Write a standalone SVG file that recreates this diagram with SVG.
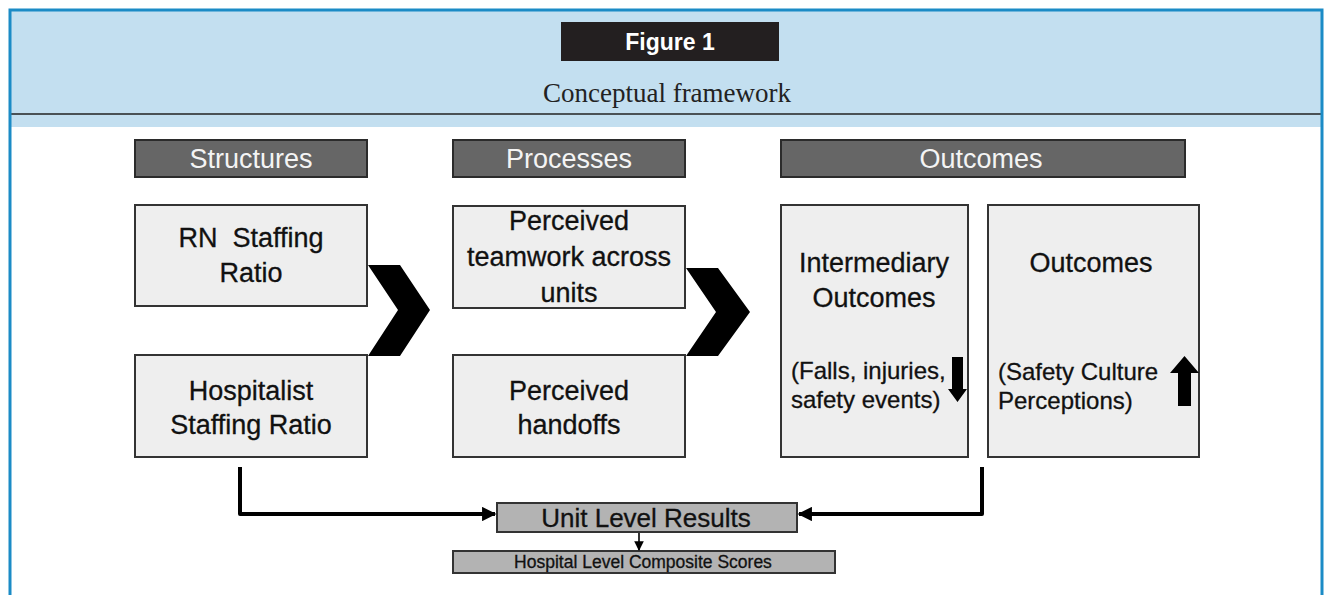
<svg xmlns="http://www.w3.org/2000/svg" width="1328" height="595" viewBox="0 0 1328 595">
  <defs>
    <style>
      .frame { fill: none; stroke: #1b8bc6; stroke-width: 3; }
      .head { fill: #666666; stroke: #2b2b2b; stroke-width: 2; }
      .headtxt { font-family: "Liberation Sans", Arial, sans-serif; font-size: 27px; fill: #f4f4f4; text-anchor: middle; }
      .box { fill: #eeeeee; stroke: #333333; stroke-width: 2; }
      .txt { font-family: "Liberation Sans", Arial, sans-serif; font-size: 27px; fill: #111111; stroke: #111111; stroke-width: 0.3; text-anchor: middle; }
      .small { font-family: "Liberation Sans", Arial, sans-serif; font-size: 24px; fill: #111111; stroke: #111111; stroke-width: 0.3; }
      .result { fill: #b3b3b3; stroke: #333333; stroke-width: 2; }
      .restxt { font-family: "Liberation Sans", Arial, sans-serif; fill: #111111; stroke: #111111; stroke-width: 0.3; text-anchor: middle; }
      .conn { fill: none; stroke: #000000; stroke-width: 4; stroke-linejoin: round; }
      .thin { fill: none; stroke: #000000; stroke-width: 1.6; }
    </style>
    <marker id="arrow" viewBox="0 0 10 10" refX="9" refY="5" markerWidth="4" markerHeight="3.6" orient="auto" markerUnits="strokeWidth">
      <path d="M0,0 L10,5 L0,10 z" fill="#000000"/>
    </marker>
    <marker id="arrowSmall" viewBox="0 0 10 10" refX="9" refY="5" markerWidth="6" markerHeight="6" orient="auto" markerUnits="strokeWidth">
      <path d="M0,0 L10,5 L0,10 z" fill="#000000"/>
    </marker>
  </defs>

  <rect width="1328" height="595" fill="#ffffff"/>

  <!-- caption band -->
  <g id="caption">
    <rect x="10" y="10" width="1312" height="117" fill="#c3dff0"/>
    <line x1="10" y1="114" x2="1322" y2="114" stroke="#222222" stroke-width="1.5"/>
    <rect x="561" y="22" width="218" height="39" fill="#231f20"/>
    <text x="670" y="50" font-family="Liberation Sans, Arial, sans-serif" font-size="23" font-weight="bold" fill="#ffffff" text-anchor="middle">Figure 1</text>
    <text x="667" y="102" font-family="Liberation Serif, Times New Roman, serif" font-size="27" fill="#222222" text-anchor="middle">Conceptual framework</text>
  </g>

  <!-- outer frame -->
  <path class="frame" d="M10,597 L10,10 L1322,10 L1322,597"/>

  <!-- column headers -->
  <g id="hdr-structures">
    <rect class="head" x="135" y="140" width="232" height="37"/>
    <text class="headtxt" x="251" y="168">Structures</text>
  </g>
  <g id="hdr-processes">
    <rect class="head" x="453" y="140" width="232" height="37"/>
    <text class="headtxt" x="569" y="168">Processes</text>
  </g>
  <g id="hdr-outcomes">
    <rect class="head" x="781" y="140" width="404" height="37"/>
    <text class="headtxt" x="981" y="168">Outcomes</text>
  </g>

  <!-- chevrons -->
  <g id="chevron-1">
    <polygon points="368,265 400,265 430,310 400,356 368,356 398,310" fill="#000000"/>
  </g>
  <g id="chevron-2">
    <polygon points="686,268 718,268 750,312 718,356 686,356 716,312" fill="#000000"/>
  </g>

  <!-- structure nodes -->
  <g id="rn-staffing">
    <rect class="box" x="135" y="205" width="232" height="101"/>
    <text class="txt" x="251" y="247" xml:space="preserve">RN  Staffing</text>
    <text class="txt" x="251" y="282">Ratio</text>
  </g>
  <g id="hospitalist-staffing">
    <rect class="box" x="135" y="355" width="232" height="102"/>
    <text class="txt" x="251" y="400">Hospitalist</text>
    <text class="txt" x="251" y="434">Staffing Ratio</text>
  </g>

  <!-- process nodes -->
  <g id="teamwork">
    <rect class="box" x="453" y="206" width="232" height="102"/>
    <text class="txt" x="569" y="230">Perceived</text>
    <text class="txt" x="569" y="266">teamwork across</text>
    <text class="txt" x="569" y="302">units</text>
  </g>
  <g id="handoffs">
    <rect class="box" x="453" y="355" width="232" height="102"/>
    <text class="txt" x="569" y="400">Perceived</text>
    <text class="txt" x="569" y="434">handoffs</text>
  </g>

  <!-- outcome nodes -->
  <g id="intermediary-outcomes">
    <rect class="box" x="781" y="205" width="187" height="252"/>
    <text class="txt" x="874" y="272">Intermediary</text>
    <text class="txt" x="874" y="307">Outcomes</text>
    <text class="small" x="791" y="379">(Falls, injuries,</text>
    <text class="small" x="791" y="408">safety events)</text>
    <polygon points="952,357 963,357 963,389 967,389 957.5,402 948,389 952,389" fill="#000000"/>
  </g>
  <g id="outcomes">
    <rect class="box" x="988" y="205" width="211" height="252"/>
    <text class="txt" x="1091" y="272">Outcomes</text>
    <text class="small" x="998" y="380">(Safety Culture</text>
    <text class="small" x="998" y="409">Perceptions)</text>
    <polygon points="1184.5,356 1199,373 1191,373 1191,406 1178,406 1178,373 1170,373" fill="#000000"/>
  </g>

  <!-- results -->
  <g id="unit-results">
    <rect class="result" x="497" y="503" width="300" height="29"/>
    <text class="restxt" x="646" y="527" font-size="26">Unit Level Results</text>
  </g>
  <g id="hospital-scores">
    <rect class="result" x="453" y="551" width="382" height="22"/>
    <text class="restxt" x="643" y="568" font-size="17.5">Hospital Level Composite Scores</text>
  </g>

  <!-- connectors -->
  <g id="connectors">
    <path class="conn" d="M240,467 L240,514 L495,514" marker-end="url(#arrow)"/>
    <path class="conn" d="M982,467 L982,514 L799,514" marker-end="url(#arrow)"/>
    <path class="thin" d="M639,533 L639,550" marker-end="url(#arrowSmall)"/>
  </g>
</svg>
